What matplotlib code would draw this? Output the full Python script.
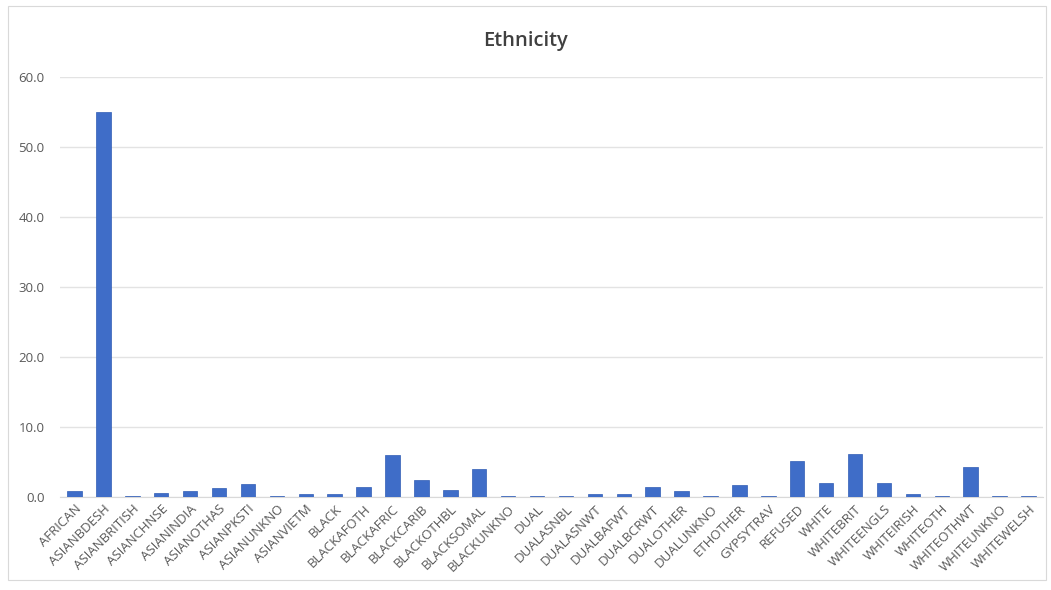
import matplotlib
matplotlib.use("Agg")
import matplotlib.pyplot as plt
from matplotlib.patches import Rectangle
from matplotlib.ticker import FormatStrFormatter

categories = [
    "AFRICAN", "ASIANBDESH", "ASIANBRITISH", "ASIANCHNSE", "ASIANINDIA",
    "ASIANOTHAS", "ASIANPKSTI", "ASIANUNKNO", "ASIANVIETM", "BLACK",
    "BLACKAFOTH", "BLACKAFRIC", "BLACKCARIB", "BLACKOTHBL", "BLACKSOMAL",
    "BLACKUNKNO", "DUAL", "DUALASNBL", "DUALASNWT", "DUALBAFWT",
    "DUALBCRWT", "DUALOTHER", "DUALUNKNO", "ETHOTHER", "GYPSYTRAV",
    "REFUSED", "WHITE", "WHITEBRIT", "WHITEENGLS", "WHITEIRISH",
    "WHITEOTH", "WHITEOTHWT", "WHITEUNKNO", "WHITEWELSH",
]
values = [
    0.9, 55.0, 0.2, 0.6, 0.9,
    1.3, 1.9, 0.2, 0.4, 0.4,
    1.5, 6.0, 2.5, 1.0, 4.0,
    0.2, 0.2, 0.2, 0.4, 0.4,
    1.5, 0.8, 0.2, 1.7, 0.2,
    5.1, 2.0, 6.2, 2.0, 0.5,
    0.2, 4.3, 0.2, 0.2,
]
y_ticks = [0, 10, 20, 30, 40, 50, 60]

plt.rcParams["font.family"] = ["Open Sans", "DejaVu Sans"]

fig = plt.figure(figsize=(10.51, 5.9), dpi=100)
fig.patch.set_facecolor("white")
fig.add_artist(Rectangle((8 / 1051, 10 / 590), 1038 / 1051, 574 / 590,
                         transform=fig.transFigure, fill=False,
                         edgecolor="#D9D9D9", linewidth=0.8))

ax = fig.add_axes([60 / 1051, 1 - 497 / 590, (1043 - 60) / 1051, (497 - 77) / 590])
x = range(len(categories))
ax.bar(x, values, width=0.5, color="#3F6DC8", edgecolor="#305DB5", linewidth=0.5, zorder=3)

ax.set_xlim(-0.5, len(categories) - 0.5)
ax.set_ylim(0, 60)
ax.set_yticks(y_ticks)
ax.yaxis.set_major_formatter(FormatStrFormatter("%.1f"))
ax.grid(axis="y", color="#E3E3E3", linewidth=1, zorder=0)
for side in ("top", "right", "left"):
    ax.spines[side].set_visible(False)
ax.spines["bottom"].set_color("#D9D9D9")
ax.tick_params(axis="both", length=0, colors="#595959", labelsize=9.5)
ax.tick_params(axis="y", pad=11)
ax.tick_params(axis="x", pad=4)
ax.set_xticks(list(x))
ax.set_xticklabels(categories, rotation=45, ha="right", rotation_mode="anchor")

fig.text(0.5, 1 - 41 / 590, "Ethnicity", ha="center", va="center",
         fontsize=14.5, fontweight="semibold", color="#404040")

fig.savefig("out.png", dpi=100)
